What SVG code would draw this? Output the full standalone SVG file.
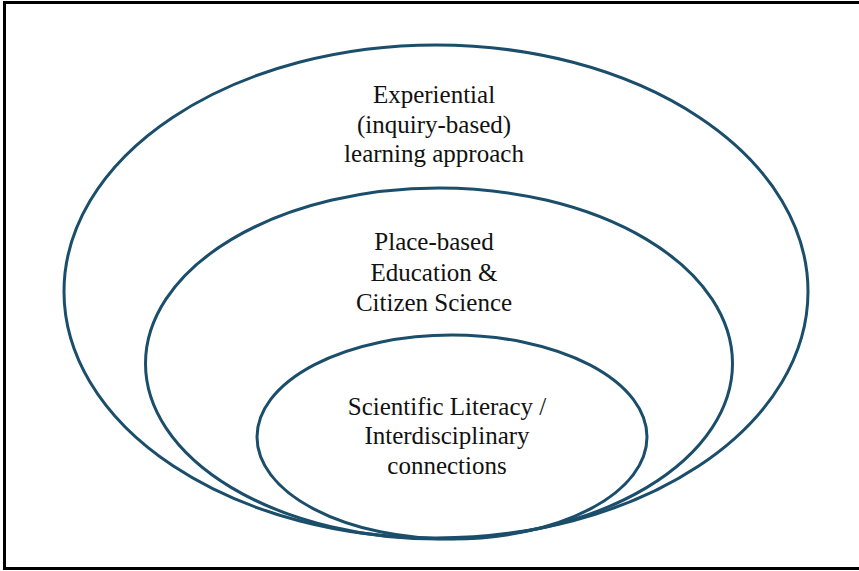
<svg xmlns="http://www.w3.org/2000/svg" width="859" height="571" viewBox="0 0 859 571">
  <style>
    .ring { fill: none; stroke: #1a4e6b; stroke-width: 3; }
    .label { font-family: "Liberation Serif", "Times New Roman", serif; font-size: 25px; fill: #111111; text-anchor: middle; }
  </style>
  <rect x="0" y="0" width="859" height="571" fill="#ffffff"/>
  <!-- frame -->
  <rect x="4.5" y="2.5" width="900" height="566" fill="none" stroke="#000000" stroke-width="3"/>

  <g id="experiential">
    <ellipse class="ring" cx="436" cy="291.5" rx="372" ry="246.5"/>
    <text class="label" x="434" y="103">Experiential</text>
    <text class="label" x="434" y="133">(inquiry-based)</text>
    <text class="label" x="434" y="162">learning approach</text>
  </g>

  <g id="place-based">
    <ellipse class="ring" cx="439" cy="363.5" rx="293.5" ry="175.5"/>
    <text class="label" x="434" y="250">Place-based</text>
    <text class="label" x="434" y="281">Education &amp;</text>
    <text class="label" x="434" y="311">Citizen Science</text>
  </g>

  <g id="scientific-literacy">
    <ellipse class="ring" cx="452" cy="437" rx="195" ry="102"/>
    <text class="label" x="447" y="415">Scientific Literacy /</text>
    <text class="label" x="447" y="444">Interdisciplinary</text>
    <text class="label" x="447" y="474">connections</text>
  </g>

  <g id="connectors"></g>
</svg>
